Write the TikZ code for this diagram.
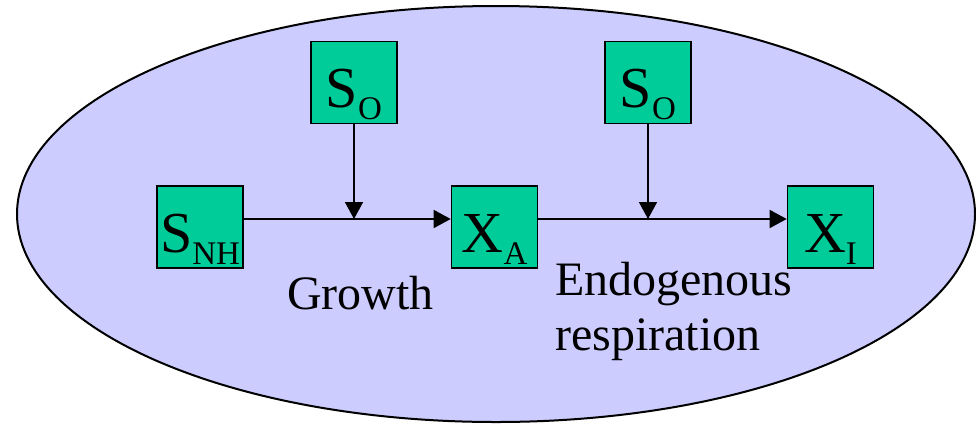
\documentclass[tikz,border=0pt]{standalone}
\usepackage{fontspec}
\setmainfont{Liberation Serif}
\usetikzlibrary{arrows.meta,shapes.geometric}
\definecolor{cellfill}{HTML}{CCCCFF}
\definecolor{boxgreen}{HTML}{00CC99}
\newcommand\subx[1]{\raisebox{-12pt}{\fontsize{33}{33}\selectfont #1}}
\tikzset{
  species/.style={draw=black, line width=1.6pt, fill=boxgreen, inner sep=0pt,
    minimum width=86pt, text height=66pt, text depth=16pt,
    font=\fontsize{58}{60}\selectfont},
  arr/.style={line width=1.6pt, -{Triangle[length=17pt,width=18pt]}},
  lbl/.style={inner sep=0pt, anchor=base west, font=\fontsize{48}{55}\selectfont}
}
\begin{document}
\begin{tikzpicture}[x=1pt,y=-1pt]
\useasboundingbox (0,0) rectangle (976,424);
\node[draw=black, line width=2pt, fill=cellfill, ellipse, inner sep=0pt,
  minimum width=958pt, minimum height=416pt] (cell) at (496,214) {};
\node[species] (so1) at (354,82.5) {S\subx{O}};
\node[species] (so2) at (648,82.5) {S\subx{O}};
\node[species] (snh) at (200,227) {S\subx{NH}};
\node[species] (xa) at (494.5,227) {X\subx{A}};
\node[species] (xi) at (830.5,227) {X\subx{I}};
\coordinate (l1) at ([yshift=8pt]snh.east);
\coordinate (l2) at ([yshift=8pt]xa.west);
\coordinate (l3) at ([yshift=8pt]xa.east);
\coordinate (l4) at ([yshift=8pt]xi.west);
\draw[arr] (l1) -- (l2);
\draw[arr] (l3) -- (l4);
\draw[arr] (so1.south) -- (so1.south |- l1);
\draw[arr] (so2.south) -- (so2.south |- l3);
\node[lbl] (growth) at (287,309) {Growth};
\node[lbl] (endo) at (555,295) {Endogenous};
\node[lbl] (resp) at (555,350) {respiration};
\end{tikzpicture}
\end{document}
